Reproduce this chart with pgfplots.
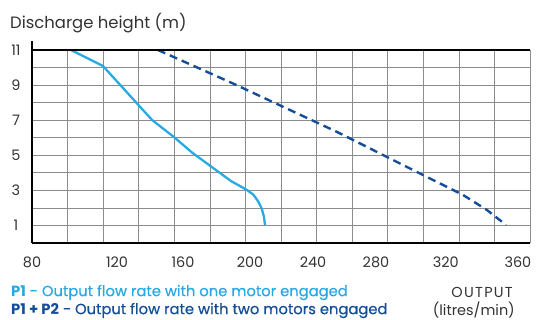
\documentclass[border=0pt]{standalone}
\usepackage{pgfplots}
\pgfplotsset{compat=1.18}
\usepackage{fontspec}
\setmainfont{Poppins}
\definecolor{pone}{HTML}{29A9E1}
\definecolor{ptwo}{HTML}{154E96}
\definecolor{txt}{HTML}{333333}
\definecolor{gridc}{HTML}{8C8C8C}
\begin{document}
\begin{tikzpicture}
\useasboundingbox (0,0) rectangle (541bp,320bp);
\begin{axis}[
  at={(32bp,77bp)}, anchor=south west,
  scale only axis, width=498bp, height=193bp,
  xmin=80, xmax=360, ymin=0, ymax=11,
  axis lines*=left,
  axis line style={black, line width=1.3pt},
  xtick={80,127.8,164.9,202.6,238.0,273.4,312.7,353.2},
  xticklabels={80,120,160,200,240,280,320,360},
  minor xtick={80,100,...,360},
  ytick={1,3,...,11}, minor ytick={2,4,...,10},
  xmajorgrids=false, xminorgrids=true,
  ymajorgrids=true, yminorgrids=true,
  major grid style={gridc, line width=0.7pt},
  minor grid style={gridc, line width=0.7pt},
  major tick length=0pt, minor tick length=0pt,
  tick label style={font=\fontsize{14.5}{15}\selectfont, text=txt},
  /pgf/number format/assume math mode=true,
  yticklabel style={anchor=center, xshift=-16bp},
  xticklabel style={anchor=center, yshift=-19bp},
  clip=false,
]
\addplot[pone, line width=2.3pt, line join=round] coordinates {
  (101.9,11.0) (119.9,10.09) (147.5,7.01) (159.8,6.04) (170.3,5.13)
  (191.9,3.53) (200.9,3.02) (204.5,2.75) (207.3,2.35) (209.2,1.95)
  (210.4,1.5) (211.0,1.03)
};
\addplot[ptwo, line width=2.4pt, dash pattern=on 8bp off 5bp] coordinates {
  (150.8,11.0) (192.4,9.12) (251.5,6.33) (283.0,4.73) (322.3,2.74)
  (335.8,1.88) (346.5,1.03)
};
\draw[black, line width=1.6pt] (axis cs:80,11) -- (axis cs:360,11);
\draw[black, line width=1.3pt] (axis cs:80,11) -- ([yshift=9bp]axis cs:80,11);
\end{axis}
\node[anchor=west, text=txt, font=\fontsize{16.5}{17}\selectfont, inner sep=0pt] at (10bp,297bp) {Discharge height (m)};
\node[anchor=west, text=pone, font=\fontsize{14.8}{15}\selectfont, inner sep=0pt] at (11bp,27.5bp) {\textbf{P1} {\addfontfeature{FakeBold=0.6}- Output flow rate with one motor engaged}};
\node[anchor=west, text=ptwo, font=\fontsize{14.8}{15}\selectfont, inner sep=0pt] at (11bp,9.5bp) {\textbf{P1 + P2} {\addfontfeature{FakeBold=0.6}- Output flow rate with two motors engaged}};
\node[anchor=east, text=txt, font=\fontsize{14.5}{15}\selectfont\addfontfeature{LetterSpace=9}, inner sep=0pt] at (513bp,27.5bp) {OUTPUT};
\node[anchor=east, text=txt, font=\fontsize{14.5}{15}\selectfont, inner sep=0pt] at (515bp,9.5bp) {(litres/min)};
\end{tikzpicture}
\end{document}
